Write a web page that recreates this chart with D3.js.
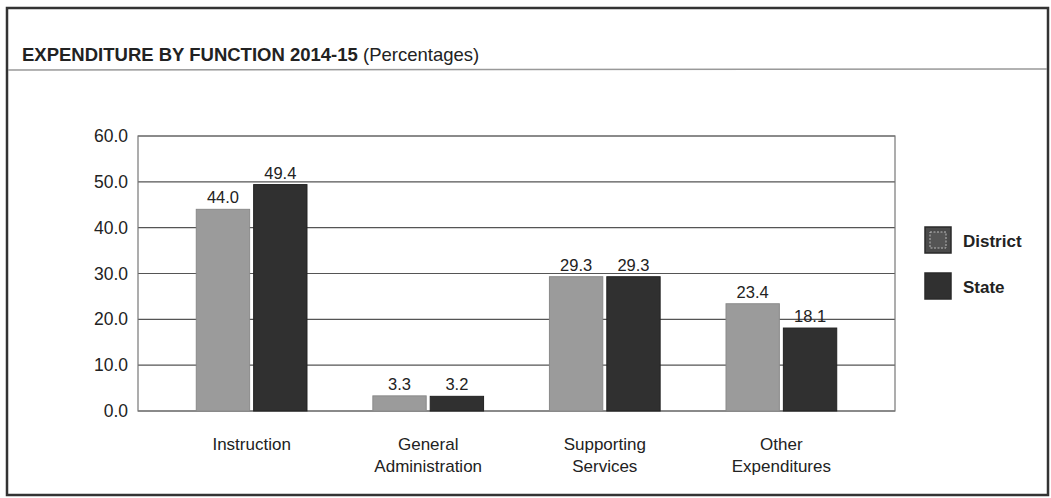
<!DOCTYPE html>
<html>
<head>
<meta charset="utf-8">
<script src="https://cdn.jsdelivr.net/npm/d3@7"></script>
<style>
  body { margin: 0; background: #fff; }
  text { font-family: "Liberation Sans", Arial, sans-serif; fill: #222; }
</style>
</head>
<body>
<div id="chart"></div>
<script>
// data
const categories = [["Instruction"], ["General", "Administration"], ["Supporting", "Services"], ["Other", "Expenditures"]];
const series = ["District", "State"];
const district = [44.0, 3.3, 29.3, 23.4];
const state = [49.4, 3.2, 29.3, 18.1];
const yTicks = [0, 10, 20, 30, 40, 50, 60];

const width = 1051;
const height = 498;
const plot = { left: 138, right: 895, top: 136, bottom: 411 };

const svg = d3.select("#chart")
  .append("svg")
  .attr("width", width)
  .attr("height", height);

// outer frame + title
svg.append("rect")
  .attr("x", 7).attr("y", 8)
  .attr("width", 1041).attr("height", 487)
  .attr("fill", "none")
  .attr("stroke", "#333")
  .attr("stroke-width", 2.5);

svg.append("line")
  .attr("x1", 8).attr("x2", 1047)
  .attr("y1", 70).attr("y2", 69)
  .attr("stroke", "#999")
  .attr("stroke-width", 1.5);

const title = svg.append("text")
  .attr("x", 22).attr("y", 61)
  .attr("font-size", 18.5);

title.append("tspan")
  .attr("font-weight", "bold")
  .text("EXPENDITURE BY FUNCTION 2014-15");

title.append("tspan")
  .text(" (Percentages)");

// scales
const x = d3.scaleBand()
  .domain(d3.range(categories.length))
  .range([plot.left, plot.right])
  .paddingInner(0.373)
  .paddingOuter(0.33);

const xSub = d3.scaleBand()
  .domain(series)
  .range([0, x.bandwidth()])
  .paddingInner(0.07);

const y = d3.scaleLinear()
  .domain([0, 60])
  .range([plot.bottom, plot.top]);

// gridlines
svg.append("g")
  .selectAll("line")
  .data(yTicks)
  .join("line")
  .attr("x1", plot.left).attr("x2", plot.right)
  .attr("y1", d => y(d)).attr("y2", d => y(d))
  .attr("stroke", "#555")
  .attr("stroke-width", 1.2);

// plot border
svg.append("rect")
  .attr("x", plot.left).attr("y", plot.top)
  .attr("width", plot.right - plot.left)
  .attr("height", plot.bottom - plot.top)
  .attr("fill", "none")
  .attr("stroke", "#777")
  .attr("stroke-width", 1.2);

// y axis labels
const yAxis = d3.axisLeft(y)
  .tickValues(yTicks)
  .tickFormat(d3.format(".1f"))
  .tickSize(0)
  .tickPadding(10);

svg.append("g")
  .attr("transform", `translate(${plot.left},0)`)
  .call(yAxis)
  .call(g => g.select(".domain").remove())
  .call(g => g.selectAll("text")
    .attr("font-size", 17.5)
    .attr("font-family", "Liberation Sans, Arial, sans-serif")
    .attr("fill", "#222"));

// bars
const rows = categories.map((c, i) => ({ i, values: [district[i], state[i]] }));
const colors = { District: "#9b9b9b", State: "#303030" };

const groups = svg.append("g")
  .selectAll("g")
  .data(rows)
  .join("g")
  .attr("transform", d => `translate(${x(d.i)},0)`);

groups.selectAll("rect")
  .data(d => series.map((s, k) => ({ s, v: d.values[k] })))
  .join("rect")
  .attr("x", d => xSub(d.s))
  .attr("width", xSub.bandwidth())
  .attr("y", d => y(d.v))
  .attr("height", d => y(0) - y(d.v))
  .attr("fill", d => colors[d.s])
  .attr("stroke", d => d.s === "District" ? "#8a8a8a" : "#222")
  .attr("stroke-width", 1);

groups.selectAll("text.val")
  .data(d => series.map((s, k) => ({ s, v: d.values[k] })))
  .join("text")
  .attr("class", "val")
  .attr("x", d => xSub(d.s) + xSub.bandwidth() / 2)
  .attr("y", d => y(d.v) - 6)
  .attr("text-anchor", "middle")
  .attr("font-size", 16.5)
  .text(d => d.v.toFixed(1));

// category labels
const catLabels = svg.append("g")
  .selectAll("text")
  .data(categories)
  .join("text")
  .attr("x", (d, i) => x(i) + x.bandwidth() / 2)
  .attr("y", d => 450)
  .attr("text-anchor", "middle")
  .attr("font-size", 17);

catLabels.selectAll("tspan")
  .data(d => d)
  .join("tspan")
  .attr("x", function() { return this.parentNode.getAttribute("x"); })
  .attr("dy", (d, k) => k === 0 ? 0 : 22)
  .text(d => d);

// legend
const legend = svg.append("g")
  .selectAll("g")
  .data(series)
  .join("g")
  .attr("transform", (d, k) => `translate(925,${227 + k * 46})`);

legend.append("rect")
  .attr("width", 26).attr("height", 26)
  .attr("fill", d => d === "District" ? "#4a4a4a" : "#303030")
  .attr("stroke", "#2a2a2a")
  .attr("stroke-width", 1.5);

legend.filter(d => d === "District")
  .append("rect")
  .attr("x", 5).attr("y", 5)
  .attr("width", 16).attr("height", 16)
  .attr("fill", "#555")
  .attr("stroke", "#bbb")
  .attr("stroke-dasharray", "2,1.5")
  .attr("stroke-width", 1);

legend.append("text")
  .attr("x", 38).attr("y", 20)
  .attr("font-size", 17)
  .attr("font-weight", "bold")
  .text(d => d);
</script>
</body>
</html>
